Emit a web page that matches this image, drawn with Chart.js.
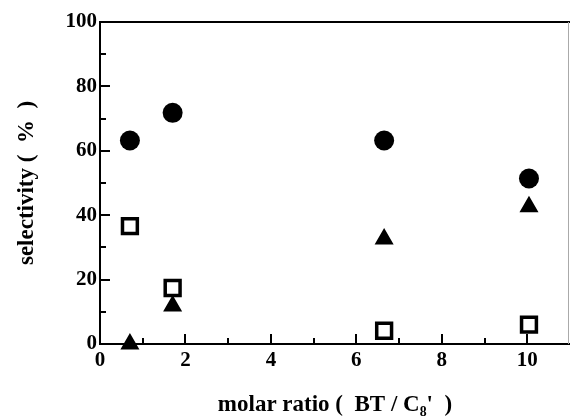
<!DOCTYPE html>
<html>
<head>
<meta charset="utf-8">
<script src="https://cdn.jsdelivr.net/npm/chart.js@4.4.0/dist/chart.umd.min.js"></script>
<style>
  html, body { margin: 0; padding: 0; background: #fff; overflow: hidden; }
  #wrap { width: 570px; height: 419px; position: relative; }
</style>
</head>
<body>
<div id="wrap"><canvas id="chart"></canvas></div>
<script>
// molar ratio BT / C8' (x) and selectivity in % for each marker series
const ratios = [0.7, 1.7, 6.65, 10.04];
const circleVals = [63.2, 71.8, 63.2, 51.4];
const triangleVals = [0.0, 11.8, 32.6, 42.6];
const squareVals = [36.6, 17.4, 4.1, 6.0];

const X_MIN = 0, X_MAX = 11;
const Y_MIN = 0, Y_MAX = 100;

const SERIF = '"Liberation Serif", "Times New Roman", serif';

const toPoints = vals => ratios.map((r, i) => ({ x: r, y: vals[i] }));

// inward tick marks plus the top / right frame
const innerTicks = {
  id: 'innerTicks',
  beforeDatasetsDraw(chart) {
    const { ctx, chartArea: a, scales: { x, y } } = chart;
    ctx.save();
    ctx.strokeStyle = '#000';
    ctx.lineWidth = 2;
    ctx.beginPath();
    ctx.moveTo(a.left, a.top);
    ctx.lineTo(a.right, a.top);
    x.ticks.forEach(t => {
      if (t.value <= X_MIN || t.value >= X_MAX) return;
      const px = Math.round(x.getPixelForValue(t.value));
      const len = t.value % 2 === 0 ? 10 : 6;
      ctx.moveTo(px, a.bottom);
      ctx.lineTo(px, a.bottom - len);
    });
    y.ticks.forEach(t => {
      if (t.value <= Y_MIN || t.value > Y_MAX) return;
      const py = Math.round(y.getPixelForValue(t.value));
      const len = t.value % 20 === 0 ? 10 : 6;
      ctx.moveTo(a.left, py);
      ctx.lineTo(a.left + len, py);
    });
    ctx.stroke();
    // faint right edge, just inside the canvas
    const rx = Math.min(a.right, chart.width - 1) - 0.5;
    ctx.strokeStyle = '#aaa';
    ctx.lineWidth = 1;
    ctx.beginPath();
    ctx.moveTo(rx, a.top);
    ctx.lineTo(rx, a.bottom);
    ctx.stroke();
    ctx.restore();
  }
};

new Chart(document.getElementById('chart'), {
  type: 'scatter',
  data: {
    datasets: [
      {
        label: 'circle',
        data: toPoints(circleVals),
        pointStyle: 'circle',
        pointRadius: 10,
        backgroundColor: '#000',
        borderColor: '#000',
        borderWidth: 0,
        clip: false
      },
      {
        label: 'triangle',
        data: toPoints(triangleVals),
        pointStyle: 'triangle',
        pointRadius: 9,
        backgroundColor: '#000',
        borderColor: '#000',
        borderWidth: 2,
        clip: false
      },
      {
        label: 'square',
        data: toPoints(squareVals),
        pointStyle: 'rect',
        pointRadius: 10.5,
        backgroundColor: '#fff',
        borderColor: '#000',
        borderWidth: 3.5,
        clip: false
      }
    ]
  },
  options: {
    responsive: true,
    maintainAspectRatio: false,
    animation: false,
    layout: {
      autoPadding: false,
      padding: { top: 22, right: -3, left: 0, bottom: 0 }
    },
    plugins: {
      legend: { display: false },
      tooltip: { enabled: false }
    },
    scales: {
      x: {
        type: 'linear',
        min: X_MIN,
        max: X_MAX,
        grid: { display: false, drawTicks: false },
        border: { display: true, color: '#000', width: 2 },
        ticks: {
          stepSize: 1,
          autoSkip: false,
          maxRotation: 0,
          padding: 4,
          color: '#000',
          font: { family: SERIF, size: 21, weight: 'bold' },
          callback: v => (v % 2 === 0 ? v : '')
        },
        title: {
          display: true,
          text: "molar ratio (  BT / C\u2088'  )",
          color: '#000',
          font: { family: SERIF, size: 23, weight: 'bold' },
          padding: { top: 0, bottom: 0 }
        },
        afterFit: s => {
          s.height = 75;
          s.paddingLeft = 0;
          s.paddingRight = 0;
        }
      },
      y: {
        type: 'linear',
        min: Y_MIN,
        max: Y_MAX,
        grid: { display: false, drawTicks: false },
        border: { display: true, color: '#000', width: 2 },
        ticks: {
          stepSize: 10,
          autoSkip: false,
          padding: 3,
          color: '#000',
          font: { family: SERIF, size: 21, weight: 'bold' },
          callback: v => (v % 20 === 0 ? v : '')
        },
        title: {
          display: true,
          text: 'selectivity (  %  )',
          color: '#000',
          font: { family: SERIF, size: 23, weight: 'bold' },
          padding: { top: 13, bottom: 0 }
        },
        afterFit: s => {
          s.width = 100;
          s.paddingTop = 0;
          s.paddingBottom = 0;
        }
      }
    }
  },
  plugins: [innerTicks]
});
</script>
</body>
</html>
